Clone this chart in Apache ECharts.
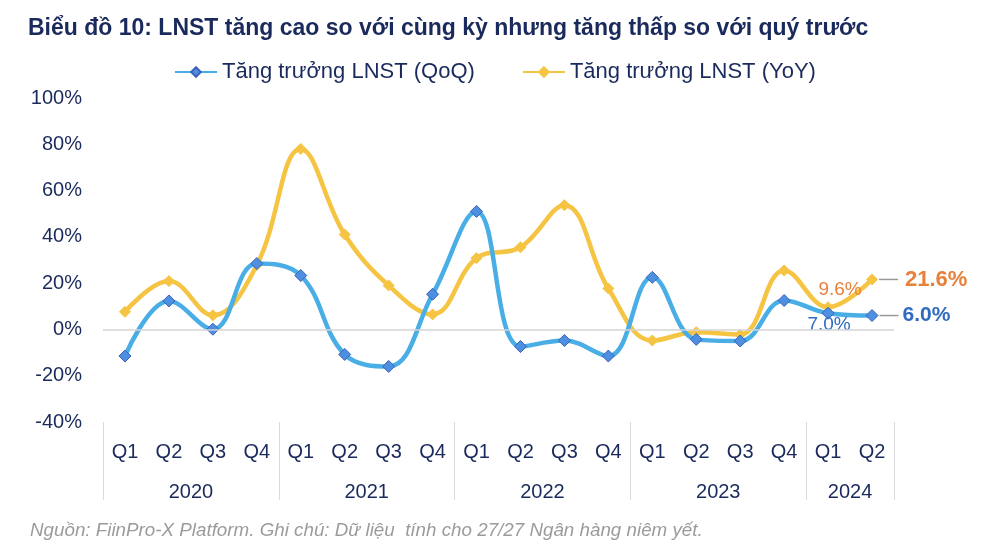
<!DOCTYPE html>
<html>
<head>
<meta charset="utf-8">
<script src="https://cdn.jsdelivr.net/npm/echarts@6/dist/echarts.min.js"></script>
<style>html,body{margin:0;padding:0;background:#fff}#c{width:1000px;height:559px}</style>
</head>
<body>
<div id="c"></div>
<script>
const titleText = 'Biểu đồ 10: LNST tăng cao so với cùng kỳ nhưng tăng thấp so với quý trước';
const sourceText = 'Nguồn: FiinPro-X Platform. Ghi chú: Dữ liệu  tính cho 27/27 Ngân hàng niêm yết.';
const quarters = ['Q1','Q2','Q3','Q4','Q1','Q2','Q3','Q4','Q1','Q2','Q3','Q4','Q1','Q2','Q3','Q4','Q1','Q2'];
const years = ['2020','2021','2022','2023','2024'];
const yearSizes = [4,4,4,4,2];
const seriesNames = ['Tăng trưởng LNST (QoQ)','Tăng trưởng LNST (YoY)'];
const qoq = [-11.5,12.3,0.1,28.5,23.3,-10.8,-16.0,15.2,51.0,-7.4,-4.8,-11.5,22.5,-4.3,-5.0,12.5,7.0,6.0];
const yoy = [7.6,20.9,6.1,27.8,78.0,41.0,19.0,6.5,30.8,35.5,53.7,17.7,-4.8,-1.2,-2.2,25.5,9.6,21.6];
const yTicks = {min:-40, max:100, interval:20};

const NAVY = '#1b2a5c';
const FONT = 'Liberation Sans, Arial, sans-serif';
const BLUE = '#4aaee6', BLUE_MK = '#4d8fe0', BLUE_BD = '#3f5fb8', BLUE_TXT = '#2f6bbf';
const YEL = '#f6c443', ORG = '#e8803a';

const yearAxisData = quarters.map(() => '');
let idx = 0;
years.forEach((y, i) => { yearAxisData[idx + yearSizes[i] / 2 - 1] = y; idx += yearSizes[i]; });
const boundaries = [];
idx = 0; yearSizes.forEach(s => { boundaries.push(idx); idx += s; });

const n = quarters.length;
function buildData(vals, kind) {
  return vals.map((v, i) => {
    if (i === n - 1) {
      const col = kind === 'qoq' ? BLUE_TXT : ORG;
      return {value: v, label: {show: true, position: 'right', distance: 1,
        formatter: '{l|}{v|' + v.toFixed(1) + '%}',
        rich: {l: {width: 19, height: 1.5, backgroundColor: '#9a9a9a'},
               v: {fontSize: kind === 'qoq' ? 21 : 22, fontWeight: 'bold', color: col, fontFamily: FONT, padding: [0,0,0,kind === 'qoq' ? 4 : 7]}}}};
    }
    if (i === n - 2) {
      return {value: v, label: kind === 'qoq'
        ? {show: true, position: 'bottom', distance: -4, offset: [1, 0], color: BLUE_TXT, fontSize: 19, fontFamily: FONT, formatter: v.toFixed(1) + '%'}
        : {show: true, position: 'top', distance: 2, offset: [12, 0], color: ORG, fontSize: 19, fontFamily: FONT, formatter: v.toFixed(1) + '%'}};
    }
    return v;
  });
}

const chart = echarts.init(document.getElementById('c'));
chart.setOption({
  animation: false,
  backgroundColor: '#fff',
  textStyle: {fontFamily: FONT},
  title: [
    {text: titleText, left: 23, top: 12, textStyle: {fontSize: 23, fontWeight: 'bold', color: NAVY, fontFamily: FONT}},
    {text: sourceText, left: 25, top: 516, textStyle: {fontSize: 18.8, fontStyle: 'italic', fontWeight: 'normal', color: '#9b9b9b', fontFamily: FONT}}
  ],
  legend: {
    top: 56, left: 169, itemWidth: 42, itemHeight: 12, itemGap: 47,
    textStyle: {fontSize: 22, color: NAVY, fontFamily: FONT},
    data: seriesNames
  },
  grid: {left: 103, right: 106, top: 98, bottom: 137},
  xAxis: [
    {type: 'category', data: quarters, boundaryGap: true, position: 'bottom',
     axisLine: {show: false, onZero: false},
     axisTick: {show: true, length: 78, interval: (i) => boundaries.indexOf(i) >= 0, lineStyle: {color: '#d9d9d9', width: 1}},
     axisLabel: {interval: 0, margin: 20, fontSize: 20, color: NAVY, fontFamily: FONT}},
    {type: 'category', data: yearAxisData, boundaryGap: true, position: 'bottom',
     axisLine: {show: false, onZero: false}, axisTick: {show: false},
     axisLabel: {interval: 0, margin: 60, fontSize: 20, color: NAVY, fontFamily: FONT, padding: [0,0,0,44]}}
  ],
  yAxis: {
    type: 'value', min: yTicks.min, max: yTicks.max, interval: yTicks.interval,
    axisLine: {show: false}, axisTick: {show: false}, splitLine: {show: false},
    axisLabel: {formatter: '{value}%', fontSize: 20, color: NAVY, margin: 21, fontFamily: FONT}
  },
  series: [
    {name: seriesNames[0], type: 'line', smooth: 0.4, data: buildData(qoq, 'qoq'),
     symbol: 'diamond', symbolSize: 12,
     lineStyle: {color: BLUE, width: 4.5},
     itemStyle: {color: BLUE_MK, borderColor: BLUE_BD, borderWidth: 1},
     markLine: {silent: true, symbol: 'none', label: {show: false},
       lineStyle: {color: '#d4d4d4', width: 1.5, type: 'solid'}, data: [{yAxis: 0}]},
     z: 3},
    {name: seriesNames[1], type: 'line', smooth: 0.4, data: buildData(yoy, 'yoy'),
     symbol: 'diamond', symbolSize: 11,
     lineStyle: {color: YEL, width: 4.5},
     itemStyle: {color: YEL, borderColor: YEL, borderWidth: 1},
     z: 2}
  ]
});
</script>
</body>
</html>
